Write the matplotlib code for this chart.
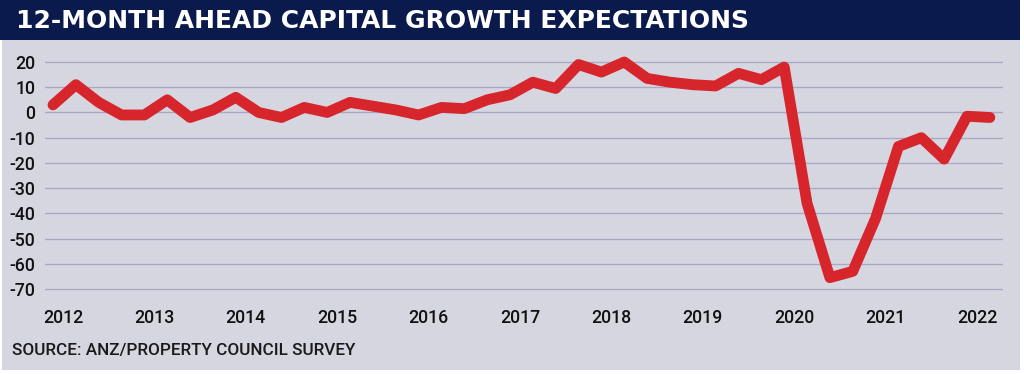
import matplotlib
matplotlib.use("Agg")
import matplotlib.pyplot as plt
from matplotlib.patches import Rectangle
import numpy as np

# Quarterly data, 2012 Q1 .. 2022 Q2
start_year = 2012
values = [3, 11, 4, -1, -1, 5, -2, 1, 6, 0, -2, 2, 0, 4, 2.5, 1, -1, 2, 1.5, 5,
          7, 12, 9.5, 19, 16, 20, 13.5, 12, 11, 10.5, 15.5, 13, 18, -36, -65.5, -63,
          -42, -13.5, -10, -18.5, -1.5, -2]
year_labels = ["2012", "2013", "2014", "2015", "2016", "2017", "2018", "2019", "2020", "2021", "2022"]
y_ticks = [20, 10, 0, -10, -20, -30, -40, -50, -60, -70]
title = "12-MONTH AHEAD CAPITAL GROWTH EXPECTATIONS"
source = "SOURCE: ANZ/PROPERTY COUNCIL SURVEY"

W, H = 1024, 374
fig = plt.figure(figsize=(W / 100, H / 100), dpi=100)
fig.patch.set_facecolor("white")

panel = "#d6d6e1"
navy = "#0b1a4c"
red = "#d7252c"
grid = "#a9a9c6"

fig.add_artist(Rectangle((2 / W, 4 / H), 1018 / W, 1 - 4 / H, transform=fig.transFigure,
                         facecolor=panel, edgecolor="none", zorder=0))
fig.add_artist(Rectangle((0, (H - 40) / H), 1020 / W, 40 / H, transform=fig.transFigure,
                         facecolor=navy, edgecolor="none", zorder=1))
fig.text(16 / W, (H - 21) / H, title, color="white", fontsize=18, fontweight="bold",
         family="DejaVu Sans", va="center", ha="left")

lab_font = ["Roboto", "DejaVu Sans"]
fig.text(12 / W, (H - 350) / H, source, color="#1a1a1a", fontsize=12.3, family=lab_font,
         fontweight="medium", va="center", ha="left")

ppu = 2.522  # pixels per y unit
ax_left, ax_right = 45, 1003
ax_top, ax_bot = 62 - ppu, 289 + ppu
ax = fig.add_axes([ax_left / W, (H - ax_bot) / H, (ax_right - ax_left) / W, (ax_bot - ax_top) / H])
ax.set_facecolor("none")

t = start_year + np.arange(len(values)) / 4.0
ax.plot(t, values, color=red, lw=7.8, solid_joinstyle="round", solid_capstyle="round",
        clip_on=False, zorder=3)

px_per_year = 91.4
x0 = start_year - 8 / px_per_year
x1 = start_year + (ax_right - 53) / px_per_year
ax.set_xlim(x0, x1)
ax.set_ylim(-71, 21)

ax.set_yticks(y_ticks)
ax.set_yticklabels([str(v) for v in y_ticks])
ax.set_xticks([int(y) + 0.11 for y in year_labels])
ax.set_xticklabels(year_labels)
for lab in ax.get_xticklabels() + ax.get_yticklabels():
    lab.set_family(lab_font)
    lab.set_fontsize(12.8)
    lab.set_fontweight("medium")
    lab.set_color("#111111")
ax.tick_params(axis="both", length=0)
ax.tick_params(axis="y", pad=7)
ax.tick_params(axis="x", pad=12.5)
ax.grid(axis="y", color=grid, lw=1.0)
ax.set_axisbelow(True)
for s in ax.spines.values():
    s.set_visible(False)

fig.savefig("out.png", dpi=100, facecolor="white")
